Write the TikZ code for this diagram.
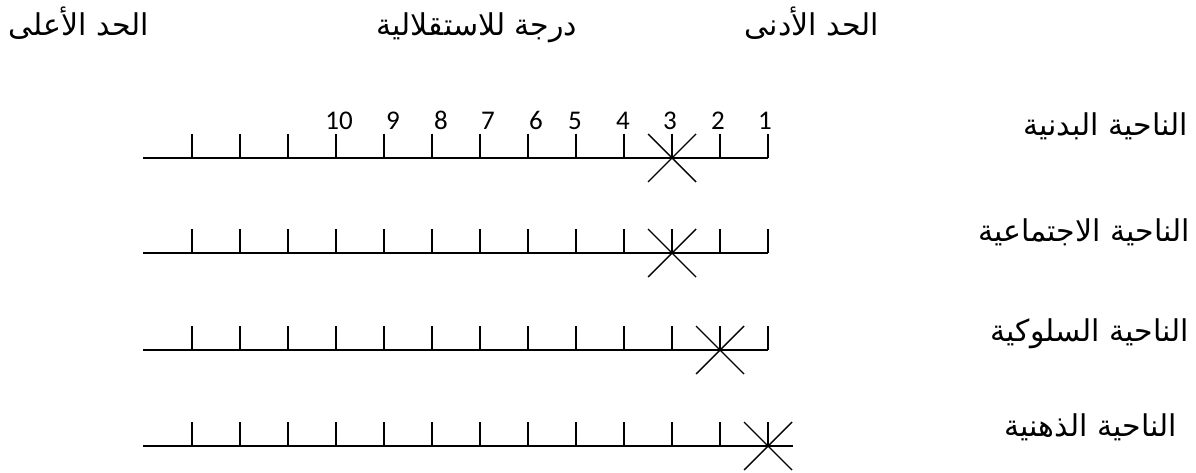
\documentclass[tikz,border=0pt]{standalone}
\usepackage{fontspec}
\TeXXeTstate=1
\newfontfamily\arabicfont[Script=Arabic]{DejaVu Sans}
\newfontfamily\numfont{Carlito}
\begin{document}
\begin{tikzpicture}[x=1pt,y=-1pt,
  ar/.style={font=\arabicfont\fontsize{30}{34}\selectfont, inner sep=0pt},
  num/.style={font=\numfont\fontsize{27}{30}\selectfont, inner sep=0pt, anchor=base},
  scaleline/.style={line width=1.6pt},
  cross/.style={line width=1.4pt}]
\useasboundingbox (0,0) rectangle (1196,473);
\fill[white] (0,0) rectangle (1196,473);
% headers
\node[ar, anchor=base] (hmax) at (79,36) {\beginR الحد الأعلى\endR};
\node[ar, anchor=base] (hdeg) at (477,36) {\beginR درجة للاستقلالية\endR};
\node[ar, anchor=base] (hmin) at (812,36) {\beginR الحد الأدنى\endR};
% row labels
\node[ar, anchor=base east] (l1) at (1188,136) {\beginR الناحية البدنية\endR};
\node[ar, anchor=base east] (l2) at (1190,241) {\beginR الناحية الاجتماعية\endR};
\node[ar, anchor=base east] (l3) at (1189,341) {\beginR الناحية السلوكية\endR};
\node[ar, anchor=base east] (l4) at (1177,436) {\beginR الناحية الذهنية\endR};
% numbers
\foreach \n/\x in {10/339,9/393,8/441,7/488,6/536,5/575,4/623,3/670,2/718,1/765}
  \node[num] (n\n) at (\x,130) {\n};
% scales
\foreach \y/\e in {158/768,253/768,350/768,446/793}{
  \draw[scaleline] (143,\y) -- (\e,\y);
  \foreach \k in {0,...,12}
    \draw[scaleline] ({192+48*\k},\y-24) -- ({192+48*\k},\y);
}
% crosses
\foreach \cx/\cy in {672/158,672/253,720/350,768/446}{
  \draw[cross] (\cx-24,\cy-24) -- (\cx+24,\cy+24);
  \draw[cross] (\cx-24,\cy+24) -- (\cx+24,\cy-24);
}
\end{tikzpicture}
\end{document}
